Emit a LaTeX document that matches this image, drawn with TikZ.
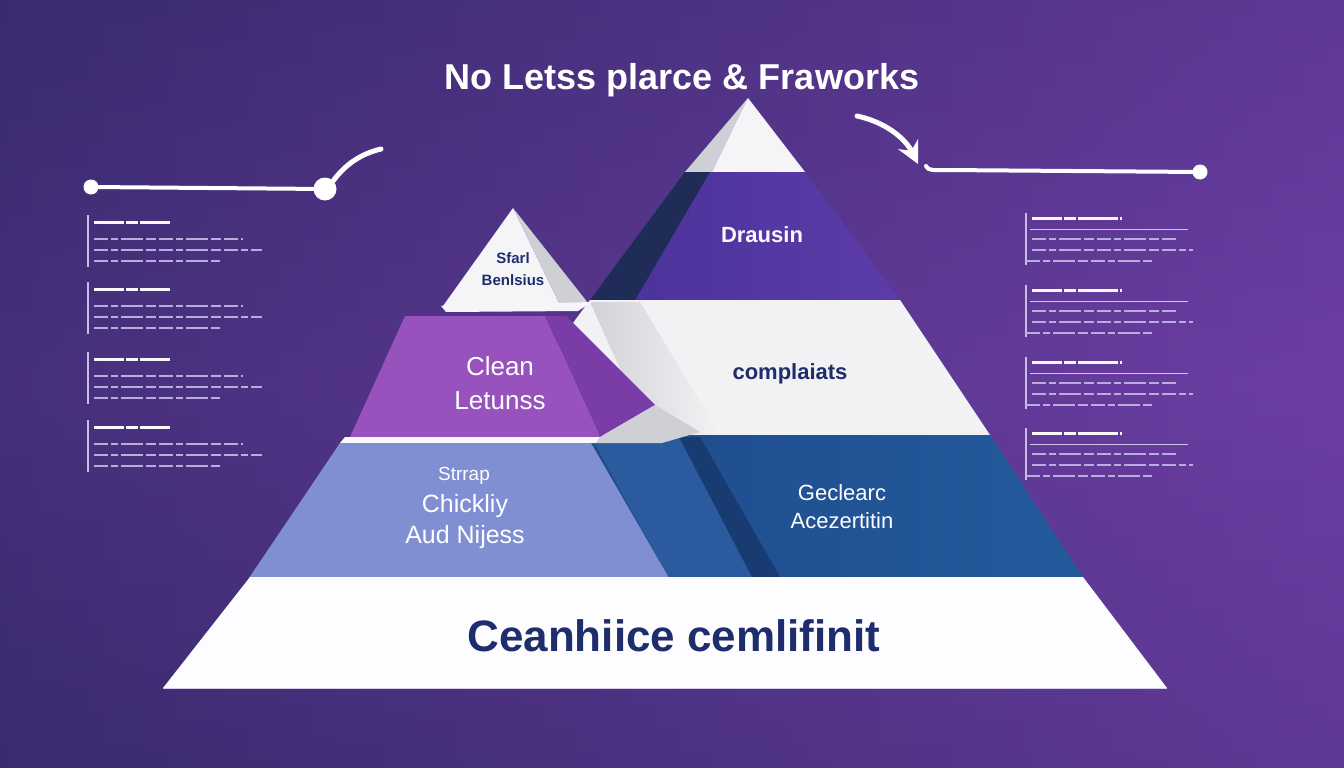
\documentclass[tikz,border=0pt]{standalone}
\usepackage{fontspec}
\setmainfont{Liberation Sans}
\usepackage{tikz}
\usetikzlibrary{arrows.meta,calc}
\definecolor{bgl}{HTML}{3A2B6E}
\definecolor{bgr}{HTML}{6C3EA4}
\definecolor{capw}{HTML}{F5F5F7}
\definecolor{capg}{HTML}{CFCFD6}
\definecolor{drp}{HTML}{4A3199}
\definecolor{drp2}{HTML}{5C3CA9}
\definecolor{drk}{HTML}{1F2C57}
\definecolor{wband}{HTML}{F2F2F4}
\definecolor{wshade}{HTML}{D2D2D8}
\definecolor{lila}{HTML}{9752BD}
\definecolor{lilad}{HTML}{7A3CA7}
\definecolor{lblue}{HTML}{7F8FD2}
\definecolor{dblue}{HTML}{1C4686}
\definecolor{dblue2}{HTML}{245A9C}
\definecolor{mblue}{HTML}{2C5A9E}
\definecolor{navy}{HTML}{1E2D6B}
\definecolor{lav}{HTML}{B8ADDC}
\tikzset{
  >={Stealth[length=22pt,width=22pt]},
  wire/.style={draw=white,line width=4pt,line cap=round},
  dot/.style={circle,fill=white,inner sep=0pt,minimum size=15pt},
  bigdot/.style={dot,minimum size=23pt},
  lab/.style={text=white,align=center,inner sep=0pt},
  dlab/.style={lab,text=navy},
  sidebar/.style={draw=lav!80,line width=1.2pt},
  headline/.style={draw=white!90!lav,line width=3pt,dash pattern=on 30pt off 2pt on 12pt off 2pt on 40pt off 2pt},
  txtline/.style={draw=lav,line width=1.8pt,dash pattern=on 14pt off 3pt on 7pt off 3pt on 22pt off 3pt on 10pt off 3pt},
  rule/.style={draw=lav!70,line width=0.8pt},
}
\begin{document}
\begin{tikzpicture}[x=1pt,y=-1pt]
\path[use as bounding box] (0,0) rectangle (1344,768);
\shade[left color=bgl,right color=bgr] (0,0) rectangle (1344,768);
\shade[top color=bgl,bottom color=bgl,middle color=bgr,opacity=0.25] (0,0) rectangle (1344,768);

\node[lab,font=\fontsize{36}{38}\selectfont\bfseries] (title) at (682,80) {No Letss plarce \& Fraworks};

% connectors
\node[dot] (l1) at (91,187) {};
\node[bigdot] (l2) at (325,189) {};
\coordinate (l3) at (381,149);
\draw[wire] (l1) -- (l2);
\draw[wire,line width=5pt] (l2.north east) .. controls (345,165) and (360,154) .. (l3);
\coordinate (r0) at (857,116);
\coordinate (r1) at (918,164);
\draw[wire,line width=5pt,->] (r0) .. controls (885,122) and (905,138) .. (r1);
\coordinate (r2) at (926,166);
\node[dot] (r3) at (1200,172) {};
\draw[wire] (r2) .. controls (928,171) and (934,170) .. (945,170) -- (r3);

% side notes
\foreach \y in {215,282,352,420} {
  \draw[sidebar] (88,\y) -- (88,\y+52);
  \draw[headline] (94,\y+7) -- (170,\y+7);
  \draw[txtline] (94,\y+24) -- (243,\y+24);
  \draw[txtline] (94,\y+35) -- (262,\y+35);
  \draw[txtline] (94,\y+46) -- (220,\y+46);
}
\foreach \y in {213,285,357,428} {
  \draw[sidebar] (1026,\y) -- (1026,\y+52);
  \draw[headline] (1032,\y+5) -- (1122,\y+5);
  \draw[rule] (1030,\y+16) -- (1188,\y+16);
  \draw[txtline] (1032,\y+26) -- (1178,\y+26);
  \draw[txtline] (1032,\y+37) -- (1193,\y+37);
  \draw[txtline] (1026,\y+48) -- (1152,\y+48);
}

% big pyramid
\fill[capg] (748,98) -- (685,172) -- (712,172) -- cycle;
\fill[capw] (748,98) -- (712,172) -- (805,172) -- cycle;
\shade[left color=drp,right color=drp2] (685,172) -- (805,172) -- (900,300) -- (590,300) -- cycle;
\fill[drk] (685,172) -- (710,172) -- (635,300) -- (590,300) -- cycle;
\fill[wband] (590,300) -- (900,300) -- (990,435) -- (490,435) -- cycle;
\shade[left color=wshade,right color=wband] (590,302) -- (640,302) -- (720,435) -- (650,435) -- cycle;
\shade[left color=dblue,right color=dblue2] (490,435) -- (990,435) -- (1083,577) -- (385,577) -- cycle;
\fill[mblue] (591,437) -- (679,437) -- (752,577) -- (668,577) -- cycle;
\fill[dblue!85!black] (679,437) -- (700,437) -- (780,577) -- (752,577) -- cycle;
\node[lab,font=\fontsize{22}{24}\selectfont\bfseries,text=white!92!lav] (drau) at (762,235) {Drausin};
\node[dlab,font=\fontsize{22}{24}\selectfont\bfseries] (compl) at (790,374) {complaiats};
\node[lab,font=\fontsize{22}{28}\selectfont] (gecl) at (842,507) {Geclearc\\Acezertitin};

% small pyramid
\fill[capw] (513,208) -- (443,306) -- (560,305) -- cycle;
\fill[capg] (513,208) -- (560,305) -- (588,303) -- cycle;
\fill[white!88!lav] (441,306) -- (592,302) -- (578,311) -- (446,312) -- cycle;
\node[dlab,font=\fontsize{15}{22}\selectfont\bfseries] (sfarl) at (513,269) {Sfarl\\Benlsius};
\fill[lila] (405,316) -- (545,316) -- (600,437) -- (350,437) -- cycle;
\fill[lilad] (545,316) -- (566,316) -- (655,405) -- (600,437) -- cycle;
\fill[capg] (600,437) -- (655,405) -- (700,432) -- (662,443) -- (596,443) -- cycle;
\fill[white!92!lav] (345,437) -- (600,437) -- (596,443) -- (340,443) -- cycle;
\node[lab,font=\fontsize{26}{34}\selectfont] (clean) at (500,383) {Clean\\Letunss};
\fill[lblue] (340,443) -- (591,443) -- (669,578) -- (249,578) -- cycle;
\node[lab,font=\fontsize{19}{21}\selectfont] (strr) at (464,476) {Strrap};
\node[lab,font=\fontsize{25}{31}\selectfont] (chick) at (465,522) {Chickliy\\Aud Nijess};

% base
\fill[white!97!lav] (250,577) -- (1083,577) -- (1167,688) -- (163,688) -- cycle;
\draw[lav!60,line width=1pt] (163,688) -- (1167,688);
\node[dlab,font=\fontsize{44}{46}\selectfont\bfseries] (base) at (674,636) {Ceanhiice cemlifinit};
\end{tikzpicture}
\end{document}
